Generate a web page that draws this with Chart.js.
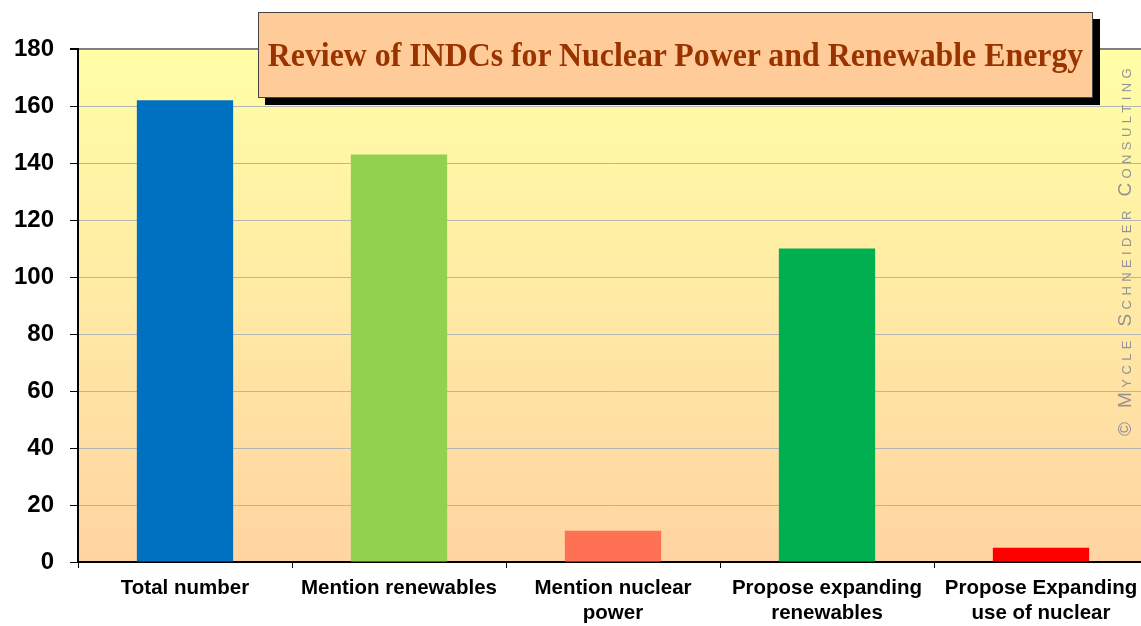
<!DOCTYPE html>
<html>
<head>
<meta charset="utf-8">
<script src="https://cdn.jsdelivr.net/npm/chart.js@4.4.0/dist/chart.umd.min.js"></script>
<style>
  body { margin: 0; background: #fff; overflow: hidden; width: 1141px; height: 626px; position: relative; }
  #wrap { position: absolute; left: 0; top: 0; width: 1150px; height: 626px; }
  #title {
    position: absolute; left: 258px; top: 12px; width: 833px; height: 84px;
    background: #FFCC99; border: 1px solid #444; box-shadow: 7px 7px 0 #000;
    font-family: "Liberation Serif", "Times New Roman", serif; font-weight: bold;
    font-size: 33px; color: #993300; display: flex; align-items: center; justify-content: center;
    white-space: nowrap;
  }
  #title span { display: inline-block; transform: scaleX(0.965); }
  #copy {
    position: absolute; left: 1125px; top: 250px; transform: translate(-50%, -50%) rotate(-90deg);
    font-family: "Liberation Sans", Arial, sans-serif; font-variant: small-caps; font-size: 19px;
    letter-spacing: 4.4px; color: #939393; white-space: nowrap;
  }
</style>
</head>
<body>
<div id="wrap"><canvas id="myChart" width="1150" height="626"></canvas></div>
<div id="title"><span>Review of INDCs for Nuclear Power and Renewable Energy</span></div>
<div id="copy">© Mycle Schneider Consulting</div>
<script>
// chart data
const categories = [
    ['Total number'],
    ['Mention renewables'],
    ['Mention nuclear', 'power'],
    ['Propose expanding', 'renewables'],
    ['Propose Expanding', 'use of nuclear']
];
const counts = [162, 143, 11, 110, 5];
const barColors = ['#0070C0', '#92D050', '#FF7155', '#00B050', '#FF0000'];

// yellow-to-peach plot background
const plotBackground = {
    id: 'plotBackground',
    beforeDraw(chart) {
        const { ctx, chartArea: a } = chart;
        const g = ctx.createLinearGradient(0, a.top, 0, a.bottom);
        g.addColorStop(0, '#FFFFA6');
        g.addColorStop(1, '#FFD4A2');
        ctx.save();
        ctx.fillStyle = g;
        ctx.fillRect(a.left, a.top, a.right - a.left, a.bottom - a.top);
        ctx.restore();
    }
};

const ctx = document.getElementById('myChart').getContext('2d');
const chart = new Chart(ctx, {
    type: 'bar',
    data: {
        labels: categories,
        datasets: [{
            data: counts,
            backgroundColor: barColors,
            borderWidth: 0,
            categoryPercentage: 0.45,
            barPercentage: 1
        }]
    },
    options: {
        responsive: false,
        animation: false,
        layout: { padding: { top: 49, right: 2, left: 0, bottom: 0 } },
        plugins: { legend: { display: false }, tooltip: { enabled: false } },
        scales: {
            x: {
                grid: { display: true, drawOnChartArea: false, offset: true, tickLength: 6, color: '#000' },
                border: { color: '#000', width: 2 },
                ticks: {
                    color: '#000',
                    font: { family: 'Liberation Sans, Arial, sans-serif', size: 20.5, weight: 'bold', lineHeight: 1.2 },
                    padding: 8,
                    maxRotation: 0
                },
                afterFit(scale) { scale.height = 64; }
            },
            y: {
                min: 0,
                max: 180,
                ticks: {
                    stepSize: 20,
                    color: '#000',
                    font: { family: 'Liberation Sans, Arial, sans-serif', size: 24, weight: 'bold' },
                    padding: 16
                },
                grid: {
                    color: (c) => c.tick && c.tick.value === 180 ? '#808080' : '#B4B4B4',
                    lineWidth: (c) => c.tick && c.tick.value === 180 ? 2 : 1,
                    tickColor: '#000',
                    tickLength: 8
                },
                border: { color: '#000', width: 2 },
                afterFit(scale) { scale.width = 78; }
            }
        }
    },
    plugins: [plotBackground]
});
</script>
</body>
</html>
